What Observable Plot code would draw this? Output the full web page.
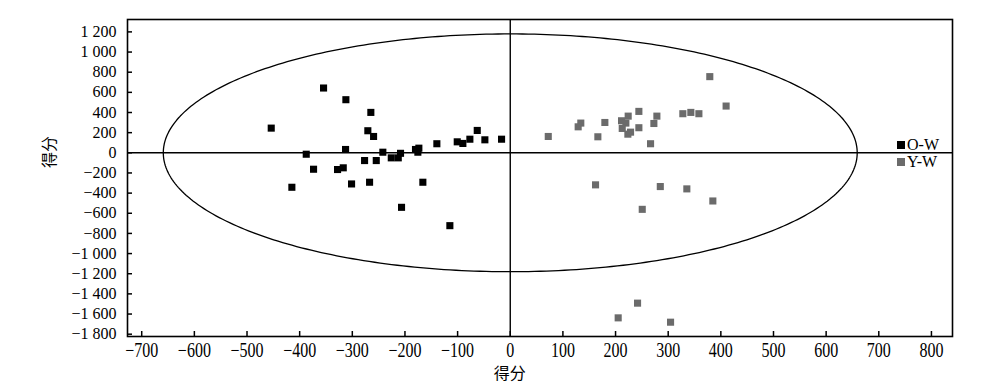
<!DOCTYPE html>
<html><head><meta charset="utf-8">
<script src="https://cdn.jsdelivr.net/npm/d3@7"></script>
<script src="https://cdn.jsdelivr.net/npm/@observablehq/plot@0.6"></script>
<style>
body{margin:0;background:#fff;}
#wrap{position:relative;width:1000px;height:385px;font-family:"Liberation Serif",serif;color:#000;}
.lab{position:absolute;font-family:"Noto Sans CJK SC",sans-serif;font-size:16px;line-height:1;white-space:nowrap;}
.leg{position:absolute;font-family:"Liberation Serif",serif;font-size:16px;line-height:1;height:14px;display:flex;align-items:center;white-space:nowrap;}
.sw{display:inline-block;width:8px;height:8px;margin-right:2px;}
</style></head><body><div id="wrap"></div>
<script>
// O-W group (black)
const owX = [-354.6,-312.2,-264.8,-454,-270.5,-259.6,-62.7,-139.4,-100.7,-90,-76.7,-48.2,-16.5,-312.8,-387.5,-242,-208.4,-226,-212.7,-180,-173.6,-175.5,-276.7,-254.5,-373.6,-328,-317.2,-414.8,-301.4,-267.2,-166,-206.5,-114.7];
const owY = [643,527,401,245,219,162,222,90,109,93,135,129,135,33,-14,6,-5,-50,-50,33,46,6,-77,-77,-163,-166,-149,-342,-309,-292,-292,-541,-723];
// Y-W group (grey)
const ywX = [379,410,244.3,327.8,343,358.3,278.5,224,211.4,219.6,179.7,134,129,272.8,244.3,212.7,228.5,223.4,72.2,166.4,266.5,162,285,335.4,384.8,250.7,241.8,205,304.5];
const ywY = [756,464,411,388,401,388,364,364,318,295,301,295,258,291,249,242,205,185,162,159,90,-318,-335,-358,-478,-561,-1492,-1638,-1681];
const seriesNames = ["O-W","Y-W"];
const seriesColors = ["#000000","#6b6b6b"];
// confidence ellipse semi-axes
const ellipseAxes = [659, 1180];
const xTicks = [-700,-600,-500,-400,-300,-200,-100,0,100,200,300,400,500,600,700,800];
const yTicks = [-1800,-1600,-1400,-1200,-1000,-800,-600,-400,-200,0,200,400,600,800,1000,1200];
const axisTitle = "得分";

const ow = owX.map((x,i)=>({x, y: owY[i]}));
const yw = ywX.map((x,i)=>({x, y: ywY[i]}));
const ellipse = d3.range(0, 361).map(d => {
  const t = d * Math.PI / 180;
  return {x: ellipseAxes[0]*Math.cos(t), y: ellipseAxes[1]*Math.sin(t)};
});
const fmt = n => {
  const a = Math.abs(n);
  let s = a >= 1000 ? Math.floor(a/1000) + " " + String(a%1000).padStart(3,"0") : String(a);
  return (n < 0 ? "\u2212" : "") + s;
};

const plot = Plot.plot({
  width: 1000, height: 385,
  marginTop: 19, marginBottom: 49, marginLeft: 127, marginRight: 48,
  x: {domain: [-727, 840]},
  y: {domain: [-1823, 1323]},
  style: {fontFamily: "Liberation Serif, serif", fontSize: "16px", color: "#000", background: "#fff"},
  marks: [
    Plot.line(ellipse, {x: "x", y: "y", stroke: "#000", strokeWidth: 1.3}),
    Plot.ruleX([0], {stroke: "#000", strokeWidth: 1.4}),
    Plot.ruleY([0], {stroke: "#000", strokeWidth: 1.4}),
    Plot.dot(ow, {x: "x", y: "y", symbol: "square", r: 4, fill: seriesColors[0], stroke: "none"}),
    Plot.dot(yw, {x: "x", y: "y", symbol: "square", r: 4, fill: seriesColors[1], stroke: "none"}),
    Plot.axisX(xTicks, {tickSize: 5, dy: -5, fill: "none", stroke: "#000", strokeWidth: 1.5}),
    Plot.axisY(yTicks, {tickSize: 5, dx: 5, fill: "none", stroke: "#000", strokeWidth: 1.5}),
    Plot.axisX(xTicks, {tickSize: 0, tickPadding: 6, stroke: "none", fill: "#000", tickFormat: fmt, label: null, fontSize: 20}),
    Plot.axisY(yTicks, {tickSize: 0, tickPadding: 11, stroke: "none", fill: "#000", tickFormat: fmt, label: null, fontSize: 16}),
    Plot.frame({stroke: "#000", strokeWidth: 1.6})
  ]
});
const wrap = document.getElementById("wrap");
wrap.appendChild(plot);
// narrow the x tick labels like the reference's condensed glyphs
plot.querySelectorAll('g[aria-label="x-axis tick label"] text').forEach(t => {
  t.setAttribute("transform", t.getAttribute("transform") + " scale(0.8,1)");
});
const sx = plot.scale("x"), sy = plot.scale("y");
const x0 = sx.apply(0), y0 = sy.apply(0);
const yl = document.createElement("div");
yl.className = "lab"; yl.textContent = axisTitle;
yl.style.left = "48px"; yl.style.top = y0 + "px";
yl.style.transform = "translate(-50%,-50%) rotate(-90deg)";
wrap.appendChild(yl);
const xl = document.createElement("div");
xl.className = "lab"; xl.textContent = axisTitle;
xl.style.left = x0 + "px"; xl.style.top = "372px";
xl.style.transform = "translate(-50%,-50%)";
wrap.appendChild(xl);
seriesNames.forEach((name, i) => {
  const d = document.createElement("div");
  d.className = "leg";
  d.style.left = "897px"; d.style.top = (138 + i*16.5) + "px";
  d.innerHTML = `<span class="sw" style="background:${seriesColors[i]}"></span>${name}`;
  wrap.appendChild(d);
});
</script></body></html>
